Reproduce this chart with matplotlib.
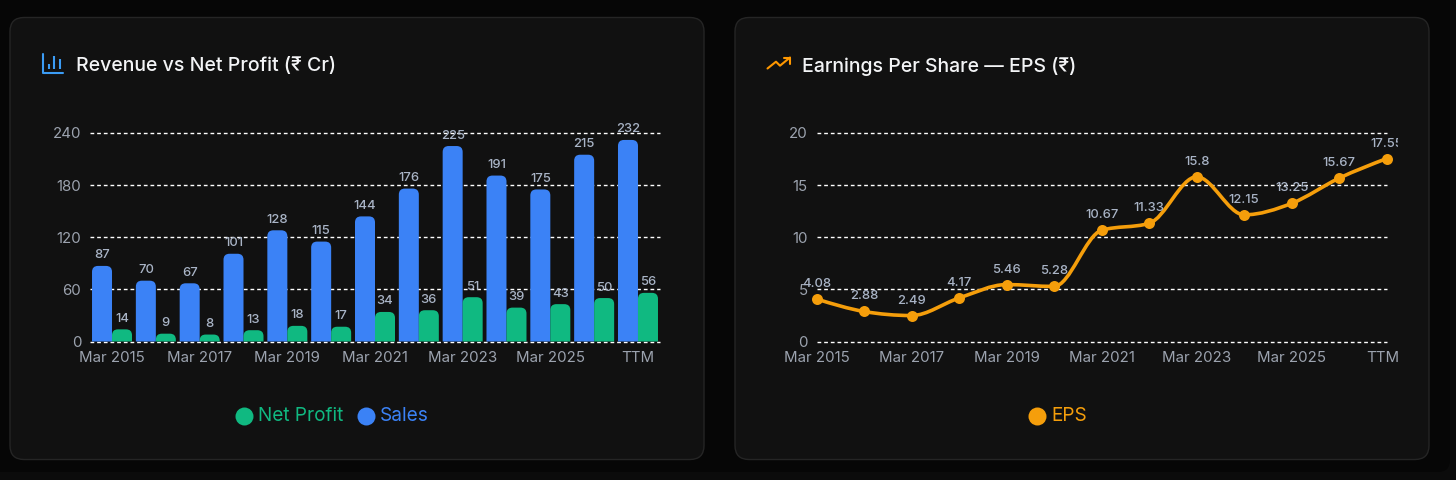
import matplotlib
matplotlib.use('Agg')
import matplotlib.pyplot as plt
import numpy as np
from matplotlib.patches import FancyBboxPatch, PathPatch
from matplotlib.path import Path
from matplotlib.transforms import Bbox, ScaledTranslation

plt.rcParams['font.family'] = ['Inter', 'Noto Sans', 'DejaVu Sans']

periods = ['Mar 2015', 'Mar 2016', 'Mar 2017', 'Mar 2018', 'Mar 2019', 'Mar 2020', 'Mar 2021',
           'Mar 2022', 'Mar 2023', 'Mar 2024', 'Mar 2025', 'Mar 2026', 'TTM']
sales = [87, 70, 67, 101, 128, 115, 144, 176, 225, 191, 175, 215, 232]
net_profit = [14, 9, 8, 13, 18, 17, 34, 36, 51, 39, 43, 50, 56]
eps = [4.08, 2.88, 2.49, 4.17, 5.46, 5.28, 10.67, 11.33, 15.8, 12.15, 13.25, 15.67, 17.55]
sales_ticks = [0, 60, 120, 180, 240]
eps_ticks = [0, 5, 10, 15, 20]

W, H = 1456, 480
BG = '#0b0b0b'
INNER = '#060606'
CARD = '#111111'
EDGE = '#252525'
BLUE = '#3b82f6'
GREEN = '#10b981'
ORANGE = '#f59e0b'
TICK = '#9ca3af'
LABEL = '#a9b4c6'
PX = 0.72  # points per pixel at dpi 100


def make_axes(fig, x0, x1, y0=133.0, y1=341.5):
    ax = fig.add_axes([x0 / W, 1 - y1 / H, (x1 - x0) / W, (y1 - y0) / H])
    ax.patch.set_alpha(0)
    for s in ax.spines.values():
        s.set_visible(False)
    ax.tick_params(length=0, labelsize=15 * PX, colors=TICK)
    ax.tick_params(axis='x', pad=6.5)
    ax.tick_params(axis='y', pad=6.3)
    ax.grid(axis='y', color='white', lw=1.0, dashes=(2.7, 2.1))
    ax.set_axisbelow(True)
    return ax


def rounded_bar(ax, left, width, height, color, rx, ry):
    # only the top corners are rounded, radius given in data units
    r = min(1.0, height / ry)
    rx, ry = rx * r, ry * r
    right = left + width
    verts = [(left, 0), (left, height - ry), (left, height), (left + rx, height),
             (right - rx, height), (right, height), (right, height - ry), (right, 0), (left, 0)]
    codes = [Path.MOVETO, Path.LINETO, Path.CURVE3, Path.CURVE3, Path.LINETO,
             Path.CURVE3, Path.CURVE3, Path.LINETO, Path.CLOSEPOLY]
    ax.add_patch(PathPatch(Path(verts, codes), fc=color, ec='none', zorder=3))


def monotone_path(xs, ys):
    # same tangents as a monotone-x curve, segments as beziers
    xs, ys = np.array(xs, float), np.array(ys, float)
    h = np.diff(xs)
    s = np.diff(ys) / h
    t = np.zeros(len(xs))
    for i in range(1, len(xs) - 1):
        p = (s[i - 1] * h[i] + s[i] * h[i - 1]) / (h[i - 1] + h[i])
        t[i] = (np.sign(s[i - 1]) + np.sign(s[i])) * min(abs(s[i - 1]), abs(s[i]), 0.5 * abs(p))
    t[0] = (3 * s[0] - t[1]) / 2
    t[-1] = (3 * s[-1] - t[-2]) / 2
    verts = [(xs[0], ys[0])]
    codes = [Path.MOVETO]
    for i in range(len(h)):
        d = h[i] / 3
        verts += [(xs[i] + d, ys[i] + d * t[i]), (xs[i + 1] - d, ys[i + 1] - d * t[i + 1]), (xs[i + 1], ys[i + 1])]
        codes += [Path.CURVE4] * 3
    return Path(verts, codes)


fig = plt.figure(figsize=(W / 100, H / 100), dpi=100, facecolor=BG)

# page layer in pixel coordinates: cards, icons, titles, legends
bg = fig.add_axes([0, 0, 1, 1])
bg.set_xlim(0, W)
bg.set_ylim(H, 0)
bg.axis('off')
bg.add_patch(FancyBboxPatch((-40, -40), 1490, 512, boxstyle='round,pad=0,rounding_size=12', fc=INNER, ec='none'))
for x0 in (10, 735):
    bg.add_patch(FancyBboxPatch((x0 + 14, 17.5 + 14), 694 - 28, 442 - 28, boxstyle='round,pad=14,rounding_size=14',
                                fc=CARD, ec=EDGE, lw=1))

bg.text(76, 66, 'Revenue vs Net Profit (₹ Cr)', color='#f3f4f6', fontsize=19.5 * PX, fontweight='medium',
        va='center', ha='left')
bg.text(802, 66, 'Earnings Per Share — EPS (₹)', color='#f3f4f6', fontsize=19.5 * PX, fontweight='medium',
        va='center', ha='left')

# bar chart icon
ICON_BLUE = '#3b9cf5'
bg.plot([43.3, 43.3, 63], [53.5, 72.7, 72.7], color=ICON_BLUE, lw=1.5, solid_capstyle='round', solid_joinstyle='round')
for x, top in ((49, 63.5), (54.3, 56), (59.7, 58.5)):
    bg.plot([x, x], [top, 69], color=ICON_BLUE, lw=1.5, solid_capstyle='butt')
# trending icon
bg.plot([767.5, 776, 780, 790], [68.5, 61.7, 65.7, 57.5], color='#ff9800', lw=1.5, solid_joinstyle='round', solid_capstyle='round')
bg.plot([784, 790, 790], [57.5, 57.5, 64], color='#ff9800', lw=1.5, solid_joinstyle='round', solid_capstyle='round')

# legends
bg.scatter([244], [416], s=(18 * PX) ** 2, color=GREEN, linewidths=0)
bg.text(258.5, 416, 'Net Profit', color=GREEN, fontsize=19 * PX, va='center')
bg.scatter([366], [416], s=(18 * PX) ** 2, color=BLUE, linewidths=0)
bg.text(380, 416, 'Sales', color=BLUE, fontsize=19 * PX, va='center')
bg.scatter([1037], [416], s=(18 * PX) ** 2, color=ORANGE, linewidths=0)
bg.text(1051, 416, 'EPS', color=ORANGE, fontsize=19 * PX, va='center')

# revenue chart
ax1 = make_axes(fig, 90.1, 659.9)
ax1.set_xlim(0, len(periods))
ax1.set_ylim(0, 240)
ax1.set_yticks(sales_ticks)
ax1.set_xticks(np.arange(0, len(periods), 2) + 0.5)
ax1.set_xticklabels(periods[::2])
bar_w = 20 / 43.83
rx, ry = 6 / 43.83, 6 * 240 / 208.5
for i, (s, n) in enumerate(zip(sales, net_profit)):
    c = i + 0.5
    rounded_bar(ax1, c - bar_w, bar_w, s, BLUE, rx, ry)
    rounded_bar(ax1, c, bar_w, n, GREEN, rx, ry)
    ax1.annotate(str(s), (c - bar_w / 2, s), xytext=(0, 10.5 * PX), textcoords='offset points', ha='center',
                 va='center', color=LABEL, fontsize=13 * PX, fontweight='medium', zorder=5)
    ax1.annotate(str(n), (c + bar_w / 2, n), xytext=(0, 10.5 * PX), textcoords='offset points', ha='center',
                 va='center', color=LABEL, fontsize=13 * PX, fontweight='medium', zorder=5)

# eps chart
ax2 = make_axes(fig, 816.5, 1386.7)
ax2.set_xlim(0, len(periods) - 1)
ax2.set_ylim(0, 20)
ax2.set_yticks(eps_ticks)
ax2.set_xticks(np.arange(0, len(periods), 2))
ax2.set_xticklabels(periods[::2])
# last tick label is pushed back inside the chart
last = ax2.get_xticklabels()[-1]
last.set_transform(last.get_transform() + ScaledTranslation(-4.2 / 100, 0, fig.dpi_scale_trans))
xs = np.arange(len(eps))
ax2.add_patch(PathPatch(monotone_path(xs, eps), fc='none', ec=ORANGE, lw=3.6 * PX, zorder=3, clip_on=False))
ax2.scatter(xs, eps, s=(11 * PX) ** 2, color=ORANGE, linewidths=0, zorder=4, clip_on=False)
clip = Bbox([[0, 0], [1398, H]])
for x, v in zip(xs, eps):
    t = ax2.annotate(f'{v:g}', (x, v), xytext=(0, 15 * PX), textcoords='offset points', ha='center',
                     va='center', color=LABEL, fontsize=13 * PX, fontweight='medium', zorder=5, annotation_clip=False)
    t.set_clip_box(clip)
    t.set_clip_on(True)

# the gridline at zero sits on the axes edge
for ax in (ax1, ax2):
    for line in ax.get_ygridlines():
        line.set_clip_on(False)

fig.savefig('out.png', dpi=100, facecolor=BG)
